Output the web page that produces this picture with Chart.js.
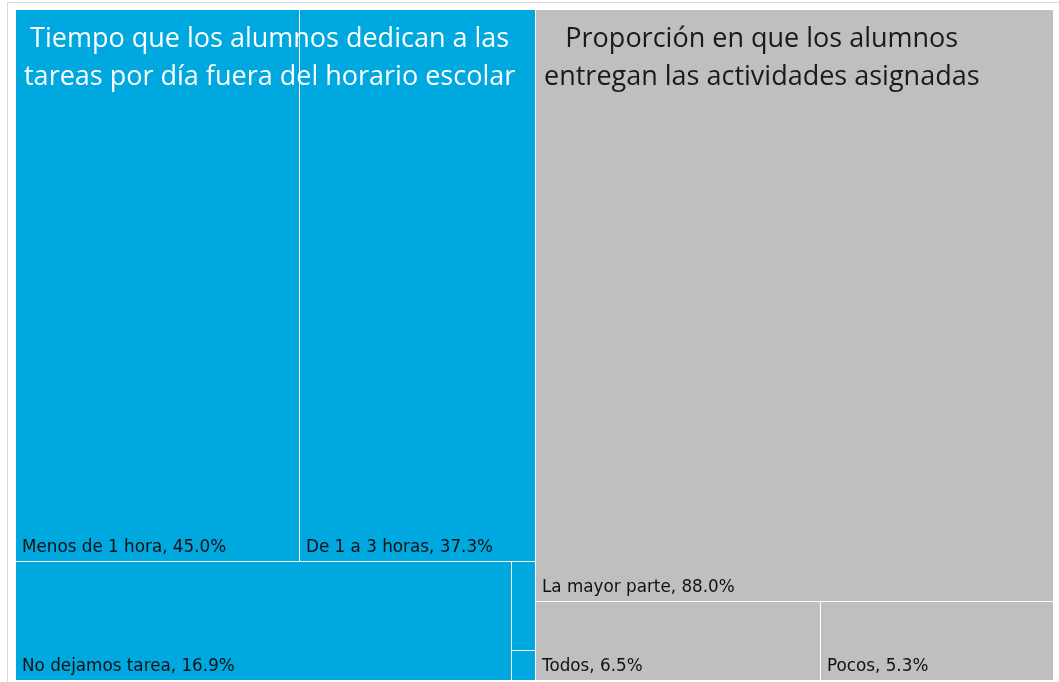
<!DOCTYPE html>
<html>
<head>
<meta charset="utf-8">
<script src="https://cdn.jsdelivr.net/npm/chart.js@4.4.0/dist/chart.umd.min.js"></script>
<style>
  body { margin: 0; background: #fff; overflow: hidden; }
  #frame { position: absolute; left: 7px; top: 2px; width: 1100px; height: 720px; border: 1px solid #d9d9d9; }
  #c { position: absolute; left: 0; top: 0; }
</style>
</head>
<body>
<div id="frame"></div>
<canvas id="c" width="1059" height="682"></canvas>
<script>
// Títulos de los grupos (ya partidos en líneas como en la imagen)
const groupTitles = [
    ['Tiempo que los alumnos dedican a las', 'tareas por día fuera del horario escolar'],
    ['Proporción en que los alumnos', 'entregan las actividades asignadas']
];

// Grupo 1: tiempo de tareas
const tiempoLabels = ['Menos de 1 hora', 'De 1 a 3 horas', 'No dejamos tarea', 'Más de 3 horas', 'Sin respuesta'];
const tiempoValues = [45.0, 37.3, 16.9, 0.6, 0.2];

// Grupo 2: entrega de actividades
const entregaLabels = ['La mayor parte', 'Todos', 'Pocos'];
const entregaValues = [88.0, 6.5, 5.3];

const groupColors = ['#00a8e0', '#bfbfbf'];
const titleColors = ['#ffffff', '#1a1a1a'];

function sum(arr) {
    return arr.reduce(function(a, b) { return a + b; }, 0);
}

// squarify simple (con algo de tolerancia en la proporción)
function squarify(values, rect) {
    const out = [];
    let items = values.map(function(v, i) { return { v: v, i: i }; });
    const r = Object.assign({}, rect);
    while (items.length) {
        const total = sum(items.map(function(it) { return it.v; }));
        const unit = r.w * r.h / total;
        const horiz = r.w <= r.h;
        const side = horiz ? r.w : r.h;
        const worst = function(row) {
            const s = sum(row.map(function(it) { return it.v; }));
            const t = s * unit / side;
            let m = 0;
            row.forEach(function(it) {
                const l = it.v / s * side;
                m = Math.max(m, l / t, t / l);
            });
            return m;
        };
        const row = [items[0]];
        let cur = worst(row);
        for (let j = 1; j < items.length; j++) {
            const next = worst(row.concat([items[j]]));
            if (next <= cur || next <= 2.5) { row.push(items[j]); cur = next; }
            else break;
        }
        items = items.slice(row.length);
        const s = sum(row.map(function(it) { return it.v; }));
        const t = s * unit / side;
        let off = 0;
        row.forEach(function(it) {
            const l = it.v / s * side;
            if (horiz) out[it.i] = { x: r.x + off, y: r.y, w: l, h: t };
            else out[it.i] = { x: r.x, y: r.y + off, w: t, h: l };
            off += l;
        });
        if (horiz) { r.y += t; r.h -= t; } else { r.x += t; r.w -= t; }
    }
    return out;
}

const treemapPlugin = {
    id: 'treemap',
    afterDatasetsDraw: function(chart) {
        const ctx = chart.ctx;
        const area = chart.chartArea;
        const xs = chart.scales.x;
        const ys = chart.scales.y;
        const k = (area.right - area.left) / (area.bottom - area.top);
        const groups = [tiempoValues, entregaValues];
        const labels = [tiempoLabels, entregaLabels];

        // rect normalizado -> píxeles usando las escalas
        const toPx = function(c) {
            return {
                x0: Math.round(xs.getPixelForValue(c.x / k * 100)),
                x1: Math.round(xs.getPixelForValue((c.x + c.w) / k * 100)),
                y0: Math.round(ys.getPixelForValue(c.y * 100)),
                y1: Math.round(ys.getPixelForValue((c.y + c.h) * 100))
            };
        };

        const groupRects = squarify(groups.map(sum), { x: 0, y: 0, w: k, h: 1 });
        ctx.save();
        groupRects.forEach(function(g, gi) {
            const cells = squarify(groups[gi], g);
            cells.forEach(function(c, ci) {
                const p = toPx(c);
                ctx.fillStyle = groupColors[gi];
                ctx.fillRect(p.x0, p.y0, p.x1 - p.x0 - 1, p.y1 - p.y0 - 1);

                // etiqueta abajo a la izquierda
                const txt = labels[gi][ci] + ', ' + groups[gi][ci].toFixed(1) + '%';
                ctx.font = '16.8px "DejaVu Sans"';
                const tw = ctx.measureText(txt).width;
                if (tw + 12 < p.x1 - p.x0 && p.y1 - p.y0 > 26) {
                    ctx.fillStyle = '#111';
                    ctx.textAlign = 'left';
                    ctx.textBaseline = 'alphabetic';
                    ctx.fillText(txt, p.x0 + 6, p.y1 - 10);
                }
            });

            // título del grupo
            const gp = toPx(g);
            ctx.font = '27px "Open Sans"';
            const lines = groupTitles[gi];
            const maxW = Math.max.apply(null, lines.map(function(l) { return ctx.measureText(l).width; }));
            ctx.fillStyle = titleColors[gi];
            ctx.textAlign = 'center';
            lines.forEach(function(l, li) {
                ctx.fillText(l, gp.x0 + 8 + maxW / 2, gp.y0 + 37 + li * 38);
            });
        });
        ctx.restore();
    }
};

new Chart(document.getElementById('c'), {
    type: 'scatter',
    data: { datasets: [{ data: [] }] },
    options: {
        responsive: false,
        animation: false,
        layout: { padding: { left: 16, top: 10, right: 5, bottom: 1 } },
        scales: {
            x: { display: false, min: 0, max: 100 },
            y: { display: false, min: 0, max: 100, reverse: true }
        },
        plugins: { legend: { display: false }, tooltip: { enabled: false } }
    },
    plugins: [treemapPlugin]
});
</script>
</body>
</html>
